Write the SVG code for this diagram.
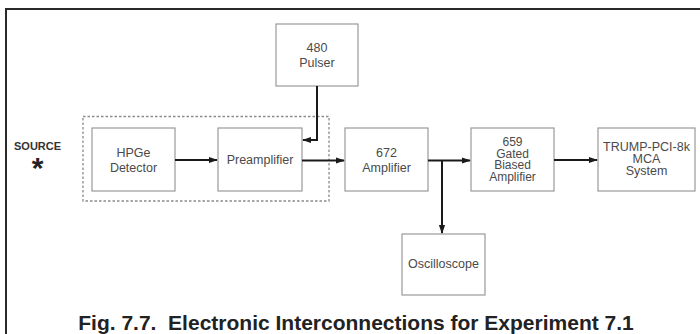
<svg xmlns="http://www.w3.org/2000/svg" width="700" height="334" viewBox="0 0 700 334">
<defs>
<style>
.box{fill:#fff;stroke:#9a9a9a;stroke-width:1.2}
.lbl{font-family:"Liberation Sans",Arial,sans-serif;font-size:12.5px;fill:#4a4a4a;text-anchor:middle}
.tight{font-size:12px}
.conn{fill:none;stroke:#1a1a1a;stroke-width:2}
.dash{fill:none;stroke:#8a8a8a;stroke-width:1.3;stroke-dasharray:2.5 2}
</style>
<marker id="ah" viewBox="0 0 10 10" refX="9" refY="5" markerWidth="4.5" markerHeight="4.5" orient="auto" markerUnits="strokeWidth">
<path d="M0,1.5 L10,5 L0,8.5 Z" fill="#1a1a1a"/>
</marker>
</defs>
<rect x="0" y="0" width="700" height="334" fill="#fff"/>
<path d="M700,9 H6 V334" fill="none" stroke="#2a2a2a" stroke-width="2"/>
<g id="source">
<text x="14" y="149.5" style="font-family:'Liberation Sans',Arial,sans-serif;font-size:11px;font-weight:bold;fill:#333">SOURCE</text>
<text x="37.5" y="178" style="font-family:'Liberation Sans',Arial,sans-serif;font-size:30px;font-weight:bold;fill:#222;text-anchor:middle">*</text>
</g>
<g id="shield"><rect class="dash" x="83" y="116.5" width="246" height="84.5"/></g>
<g id="pulser"><rect class="box" x="276" y="24" width="82" height="62"/><text class="lbl" x="317" y="52">480</text><text class="lbl" x="317" y="67">Pulser</text></g>
<g id="hpge"><rect class="box" x="92" y="128" width="83" height="63"/><text class="lbl" x="133.5" y="157">HPGe</text><text class="lbl" x="133.5" y="172">Detector</text></g>
<g id="preamp"><rect class="box" x="218" y="128" width="84" height="63"/><text class="lbl" x="260" y="164">Preamplifier</text></g>
<g id="amp672"><rect class="box" x="345" y="128" width="83" height="63"/><text class="lbl" x="386.5" y="157">672</text><text class="lbl" x="386.5" y="171.5">Amplifier</text></g>
<g id="amp659"><rect class="box" x="471" y="128" width="83" height="63"/><text class="lbl tight" x="512.5" y="146">659</text><text class="lbl tight" x="512.5" y="157.5">Gated</text><text class="lbl tight" x="512.5" y="169">Biased</text><text class="lbl tight" x="512.5" y="180.5">Amplifier</text></g>
<g id="mca"><rect class="box" x="598" y="128" width="97" height="63"/><text class="lbl" x="646.5" y="151">TRUMP-PCI-8k</text><text class="lbl" x="646.5" y="163">MCA</text><text class="lbl" x="646.5" y="175">System</text></g>
<g id="scope"><rect class="box" x="402" y="234" width="83" height="61"/><text class="lbl" x="443.5" y="268">Oscilloscope</text></g>
<g id="connectors">
<path class="conn" d="M175,160 H217" marker-end="url(#ah)"/>
<path class="conn" d="M302,160.5 H344" marker-end="url(#ah)"/>
<path class="conn" d="M428,160.5 H470" marker-end="url(#ah)"/>
<path class="conn" d="M554,160 H597" marker-end="url(#ah)"/>
<path class="conn" d="M442,160.5 V233" marker-end="url(#ah)"/>
<path class="conn" d="M317,86 V140 H303" marker-end="url(#ah)"/>
</g>
<text x="356" y="330" style="font-family:'Liberation Sans',Arial,sans-serif;font-size:21px;font-weight:bold;fill:#222;text-anchor:middle;white-space:pre" xml:space="preserve">Fig. 7.7.  Electronic Interconnections for Experiment 7.1</text>
</svg>
